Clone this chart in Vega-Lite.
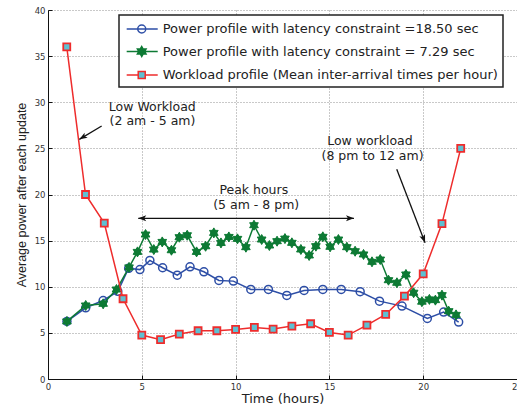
{
  "$schema": "https://vega.github.io/schema/vega-lite/v6.json",
  "autosize": {"type": "none"},
  "padding": {"left": 48, "top": 10, "right": 0, "bottom": 29},
  "width": 469,
  "height": 369,
  "background": "white",
  "config": {
    "view": {"stroke": null},
    "font": "DejaVu Sans",
    "axis": {
      "grid": true,
      "gridDash": [1, 2],
      "gridColor": "#777777",
      "gridWidth": 0.8,
      "domainColor": "#111111",
      "domainWidth": 1,
      "tickColor": "#111111",
      "tickSize": -4,
      "labelPadding": 7,
      "labelFont": "DejaVu Sans",
      "labelFontSize": 8.5,
      "labelColor": "#333333",
      "titleColor": "#222222",
      "titleFontWeight": "normal"
    }
  },
  "datasets": {
    "blue": [
      {"t": 1.01, "v": 6.24}, {"t": 2.01, "v": 7.72}, {"t": 2.94, "v": 8.51}, {"t": 3.72, "v": 9.5},
      {"t": 4.3, "v": 12.0}, {"t": 4.9, "v": 11.86}, {"t": 5.43, "v": 12.85}, {"t": 6.11, "v": 12.06},
      {"t": 6.89, "v": 11.26}, {"t": 7.57, "v": 12.16}, {"t": 8.31, "v": 11.62}, {"t": 9.11, "v": 10.68},
      {"t": 9.88, "v": 10.61}, {"t": 10.81, "v": 9.71}, {"t": 11.75, "v": 9.71}, {"t": 12.73, "v": 9.06},
      {"t": 13.65, "v": 9.6}, {"t": 14.65, "v": 9.71}, {"t": 15.63, "v": 9.71}, {"t": 16.64, "v": 9.46},
      {"t": 17.67, "v": 8.44}, {"t": 18.87, "v": 7.9}, {"t": 20.22, "v": 6.57}, {"t": 21.09, "v": 7.25},
      {"t": 21.89, "v": 6.17}
    ],
    "green": [
      {"t": 1.01, "v": 6.24}, {"t": 2.01, "v": 7.97}, {"t": 2.94, "v": 8.15}, {"t": 3.65, "v": 9.7},
      {"t": 4.32, "v": 12.1}, {"t": 4.77, "v": 13.78}, {"t": 5.2, "v": 15.66}, {"t": 5.64, "v": 14.03},
      {"t": 6.09, "v": 14.86}, {"t": 6.58, "v": 13.96}, {"t": 7.0, "v": 15.37}, {"t": 7.42, "v": 15.58},
      {"t": 7.92, "v": 13.78}, {"t": 8.4, "v": 14.39}, {"t": 8.84, "v": 15.84}, {"t": 9.22, "v": 14.75},
      {"t": 9.64, "v": 15.4}, {"t": 10.1, "v": 15.19}, {"t": 10.55, "v": 14.29}, {"t": 10.98, "v": 16.67},
      {"t": 11.39, "v": 15.12}, {"t": 11.8, "v": 14.47}, {"t": 12.21, "v": 14.94}, {"t": 12.63, "v": 15.22},
      {"t": 13.0, "v": 14.76}, {"t": 13.48, "v": 14.04}, {"t": 13.92, "v": 13.39}, {"t": 14.28, "v": 14.4},
      {"t": 14.65, "v": 15.41}, {"t": 15.04, "v": 14.33}, {"t": 15.48, "v": 15.12}, {"t": 15.93, "v": 14.29},
      {"t": 16.37, "v": 13.85}, {"t": 16.82, "v": 13.5}, {"t": 17.27, "v": 12.7}, {"t": 17.71, "v": 12.95},
      {"t": 18.15, "v": 10.71}, {"t": 18.6, "v": 10.43}, {"t": 19.08, "v": 11.33}, {"t": 19.49, "v": 9.35},
      {"t": 19.93, "v": 8.38}, {"t": 20.33, "v": 8.63}, {"t": 20.65, "v": 8.55}, {"t": 21.0, "v": 9.09},
      {"t": 21.36, "v": 7.35}, {"t": 21.75, "v": 6.95}
    ],
    "red": [
      {"t": 1, "v": 36.0}, {"t": 2, "v": 20.0}, {"t": 3, "v": 16.9}, {"t": 4, "v": 8.7},
      {"t": 5, "v": 4.76}, {"t": 6, "v": 4.26}, {"t": 7, "v": 4.87}, {"t": 8, "v": 5.23},
      {"t": 9, "v": 5.23}, {"t": 10, "v": 5.37}, {"t": 11, "v": 5.59}, {"t": 12, "v": 5.41},
      {"t": 13, "v": 5.74}, {"t": 14, "v": 5.99}, {"t": 15, "v": 5.05}, {"t": 16, "v": 4.76},
      {"t": 17, "v": 5.84}, {"t": 18, "v": 7.0}, {"t": 19, "v": 8.98}, {"t": 20, "v": 11.4},
      {"t": 21, "v": 16.85}, {"t": 22, "v": 25.0}
    ],
    "notes": [
      {"t": 5.56, "v": 29.5, "label": "Low Workload"},
      {"t": 5.57, "v": 27.95, "label": "(2 am - 5 am)"},
      {"t": 17.16, "v": 25.77, "label": "Low workload"},
      {"t": 17.3, "v": 24.15, "label": "(8 pm to 12 am)"},
      {"t": 10.97, "v": 20.46, "label": "Peak hours"},
      {"t": 11.1, "v": 18.85, "label": "(5 am - 8 pm)"}
    ],
    "shafts": [
      {"t": 2.86, "v": 27.43, "t2": 1.67, "v2": 25.98},
      {"t": 18.59, "v": 22.73, "t2": 20.1, "v2": 14.78},
      {"t": 4.81, "v": 17.42, "t2": 16.31, "v2": 17.42}
    ]
  },
  "encoding": {
    "x": {"field": "t", "type": "quantitative", "scale": {"domain": [0, 25], "nice": false},
      "axis": {"values": [0, 5, 10, 15, 20, 25], "labelFlush": false, "title": "Time (hours)", "titleFont": "DejaVu Sans", "titleFontSize": 13, "titlePadding": 2}},
    "y": {"field": "v", "type": "quantitative", "scale": {"domain": [0, 40], "nice": false},
      "axis": {"values": [0, 5, 10, 15, 20, 25, 30, 35, 40], "title": "Average power after each update", "titleFont": "Liberation Sans", "titleFontSize": 12.5, "titlePadding": 6}}
  },
  "layer": [
    {
      "data": {"name": "blue"},
      "transform": [{"calculate": "'Power profile with latency constraint =18.50 sec'", "as": "series"}],
      "mark": {"type": "line", "strokeWidth": 1.5},
      "encoding": {
        "color": {
          "field": "series", "type": "nominal",
          "scale": {
            "domain": ["Power profile with latency constraint =18.50 sec", "Power profile with latency constraint = 7.29 sec", "Workload profile (Mean inter-arrival times per hour)"],
            "range": ["#2d4ea6", "#0d7a34", "#ee2c2c"]
          },
          "legend": {
            "title": null,
            "orient": "none",
            "legendX": 71,
            "legendY": 5,
            "padding": 5,
            "rowPadding": 6.5,
            "labelOffset": 20.7,
            "symbolSize": 256,
            "symbolStrokeWidth": 1.5,
            "labelFont": "DejaVu Sans",
            "labelFontSize": 13,
            "labelColor": "#222222",
            "labelLimit": 500,
            "fillColor": "white",
            "strokeColor": "#222222",
            "cornerRadius": 0,
            "encode": {
              "legend": {"update": {"strokeWidth": {"value": 1.5}}},
              "symbols": {"update": {
                "shape": {"signal": "datum.index === 0 ? 'M-0.79,0H3.09M1.59,0A0.5,0.5 0 1,1 0.59,0A0.5,0.5 0 1,1 1.59,0Z' : datum.index === 1 ? 'M-0.79,0H3.09M1.09,-0.625L1.631,0.313L0.549,0.313ZM1.09,0.625L0.549,-0.313L1.631,-0.313Z' : 'M-0.79,0H0.6525M1.5275,0H3.09M0.6525,-0.4375H1.5275V0.4375H0.6525Z'"},
                "fill": {"signal": "datum.index === 0 ? 'transparent' : datum.index === 1 ? '#0d7a34' : '#5ec0d2'"},
                "stroke": {"signal": "datum.index === 0 ? '#2d4ea6' : datum.index === 1 ? '#0d7a34' : '#ee2c2c'"},
                "strokeWidth": {"value": 1.5},
                "opacity": {"value": 1}
              }}
            }
          }
        }
      }
    },
    {
      "data": {"name": "blue"},
      "mark": {"type": "point", "shape": "circle", "size": 64, "filled": false, "fill": "transparent", "stroke": "#2d4ea6", "strokeWidth": 1.5, "opacity": 1}
    },
    {
      "data": {"name": "green"},
      "transform": [{"calculate": "'Power profile with latency constraint = 7.29 sec'", "as": "series"}],
      "mark": {"type": "line", "strokeWidth": 1.5},
      "encoding": {"color": {"field": "series", "type": "nominal"}}
    },
    {
      "data": {"name": "green"},
      "mark": {"type": "point", "shape": "M0,-1L0.866,0.5L-0.866,0.5ZM0,1L-0.866,-0.5L0.866,-0.5Z", "size": 100, "filled": true, "fill": "#0d7a34", "stroke": "#0d7a34", "strokeWidth": 1, "opacity": 1}
    },
    {
      "data": {"name": "red"},
      "transform": [{"calculate": "'Workload profile (Mean inter-arrival times per hour)'", "as": "series"}],
      "mark": {"type": "line", "strokeWidth": 1.5},
      "encoding": {"color": {"field": "series", "type": "nominal"}}
    },
    {
      "data": {"name": "red"},
      "mark": {"type": "point", "shape": "square", "size": 49, "filled": true, "fill": "#5ec0d2", "stroke": "#ee2c2c", "strokeWidth": 1.8, "opacity": 1}
    },
    {
      "data": {"name": "shafts"},
      "mark": {"type": "rule", "color": "#111111", "strokeWidth": 1.3},
      "encoding": {"x2": {"field": "t2"}, "y2": {"field": "v2"}}
    },
    {
      "data": {"values": [{"t": 1.67, "v": 25.98}]},
      "mark": {"type": "point", "shape": "M0,0L-0.75,2L0,1.5L0.75,2Z", "size": 64, "filled": true, "color": "#111111", "opacity": 1, "angle": 239}
    },
    {
      "data": {"values": [{"t": 20.1, "v": 14.78}]},
      "mark": {"type": "point", "shape": "M0,0L-0.75,2L0,1.5L0.75,2Z", "size": 64, "filled": true, "color": "#111111", "opacity": 1, "angle": 159}
    },
    {
      "data": {"values": [{"t": 4.81, "v": 17.42}]},
      "mark": {"type": "point", "shape": "M0,0L-0.75,2L0,1.5L0.75,2Z", "size": 64, "filled": true, "color": "#111111", "opacity": 1, "angle": 270}
    },
    {
      "data": {"values": [{"t": 16.31, "v": 17.42}]},
      "mark": {"type": "point", "shape": "M0,0L-0.75,2L0,1.5L0.75,2Z", "size": 64, "filled": true, "color": "#111111", "opacity": 1, "angle": 90}
    },
    {
      "data": {"name": "notes"},
      "mark": {"type": "text", "font": "DejaVu Sans", "fontSize": 12.5, "color": "#222222", "align": "center", "baseline": "middle"},
      "encoding": {"text": {"field": "label"}}
    }
  ]
}
